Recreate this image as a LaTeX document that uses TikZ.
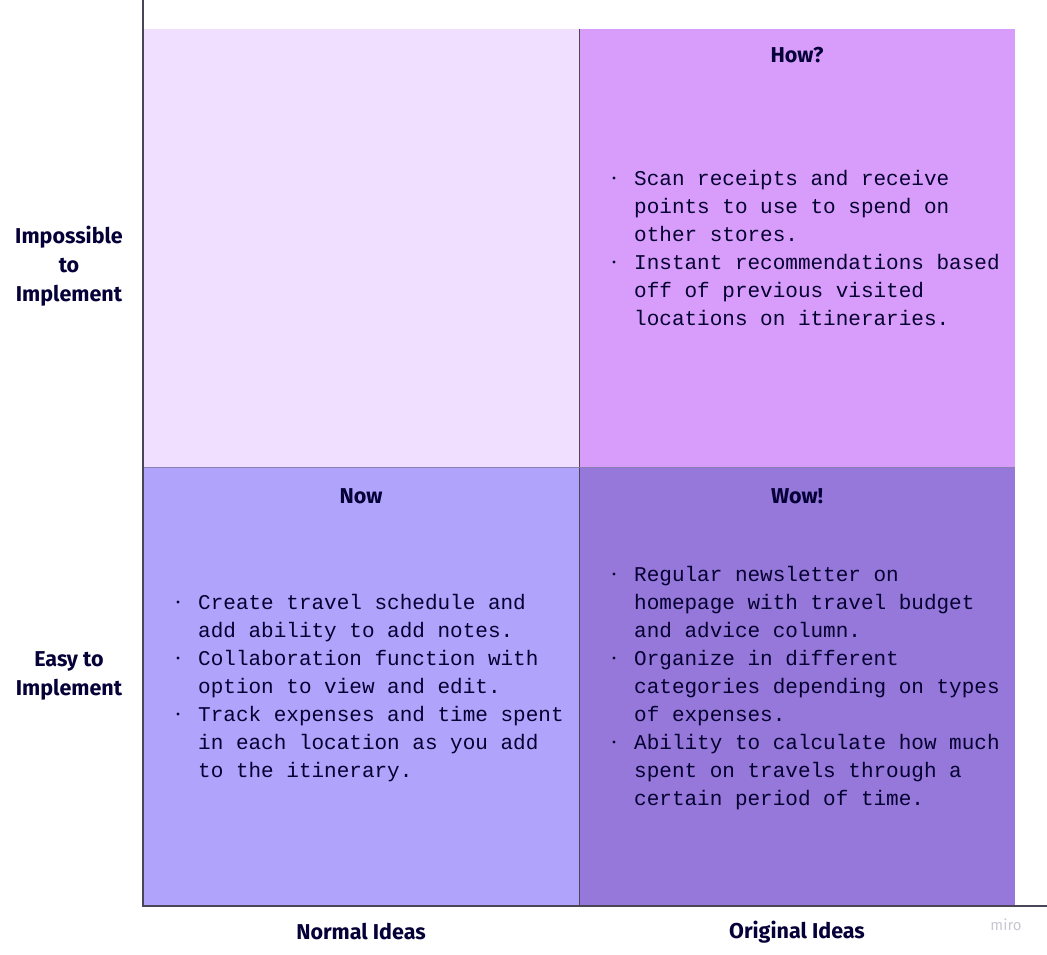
\documentclass[tikz,border=0pt]{standalone}
\usepackage{fontspec}
\setmainfont{Fira Sans}
\newfontfamily\monofont{Liberation Mono}
\definecolor{ink}{HTML}{050038}
\definecolor{qNormalHard}{HTML}{F0DFFE}
\definecolor{qOriginalHard}{HTML}{D89DFA}
\definecolor{qNormalEasy}{HTML}{B0A3FC}
\definecolor{qOriginalEasy}{HTML}{9578D9}
\definecolor{axisline}{HTML}{4A4658}
\definecolor{gridline}{HTML}{8A7FAE}
\definecolor{brand}{HTML}{C9C7D2}
\tikzset{
  quad/.style={draw=none, minimum width=436pt, minimum height=438pt,
    inner sep=0pt, outer sep=0pt, anchor=north west},
  heading/.style={text=ink, font=\fontsize{21.5}{24}\selectfont\bfseries, inner sep=0pt},
  sidelabel/.style={text=ink, font=\fontsize{21.5}{29}\selectfont\bfseries, align=center, inner sep=0pt},
  % base anchor of a multi-line node sits on its last line
  item/.style={text=ink!90!black, font=\monofont\fontsize{21}{28}\selectfont,
    align=left, inner sep=0pt, anchor=base west},
  dot/.style={fill=ink!85!black},
}
\begin{document}
\begin{tikzpicture}[x=1pt, y=-1pt]
\useasboundingbox (0,0) rectangle (1047,954);
\fill[white] (0,0) rectangle (1047,954);

% quadrants
\node[quad, fill=qNormalHard]   (nh) at (143,29)  {};
\node[quad, fill=qOriginalHard] (oh) at (579,29)  {};
\node[quad, fill=qNormalEasy]   (ne) at (143,467) {};
\node[quad, fill=qOriginalEasy] (oe) at (579,467) {};

% dividers
\draw[axisline, line width=1pt] (oh.north west) -- (oe.south west);
\draw[gridline, line width=1pt] (ne.north west) -- (oe.north east);

% axes
\coordinate (ytop) at (143,0);
\coordinate (origin) at (143,906);
\coordinate (xend) at (1047,906);
\draw[axisline, line width=1.4pt] (ytop) -- (origin) -- (xend);

% headings
\node[heading] (how) at (797,55) {How?};
\node[heading] (now) at (361,496) {Now};
\node[heading] (wow) at (797,496) {Wow!};

% axis labels
\node[sidelabel] (hard) at (69,266) {Impossible\\to\\Implement};
\node[sidelabel] (easy) at (69,676) {Easy to\\Implement};
\node[heading] (normal) at (361,932) {Normal Ideas};
\node[heading] (original) at (797,932) {Original Ideas};

% How?
\node[item] (h1) at (634,241) {Scan receipts and receive\\points to use to spend on\\other stores.};
\node[item] (h2) at (634,325) {Instant recommendations based\\off of previous visited\\locations on itineraries.};
\fill[dot] (614,178) circle (1.7);
\fill[dot] (614,262) circle (1.7);

% Now
\node[item] (n1) at (198,637) {Create travel schedule and\\add ability to add notes.};
\node[item] (n2) at (198,693) {Collaboration function with\\option to view and edit.};
\node[item] (n3) at (198,777) {Track expenses and time spent\\in each location as you add\\to the itinerary.};
\fill[dot] (178,602) circle (1.7);
\fill[dot] (178,658) circle (1.7);
\fill[dot] (178,714) circle (1.7);

% Wow!
\node[item] (w1) at (634,637) {Regular newsletter on\\homepage with travel budget\\and advice column.};
\node[item] (w2) at (634,721) {Organize in different\\categories depending on types\\of expenses.};
\node[item] (w3) at (634,805) {Ability to calculate how much\\spent on travels through a\\certain period of time.};
\fill[dot] (614,574) circle (1.7);
\fill[dot] (614,658) circle (1.7);
\fill[dot] (614,742) circle (1.7);

% brand mark
\node[text=brand, font=\fontsize{15}{18}\selectfont, inner sep=0pt] (mark) at (1006,925) {miro};
\end{tikzpicture}
\end{document}
